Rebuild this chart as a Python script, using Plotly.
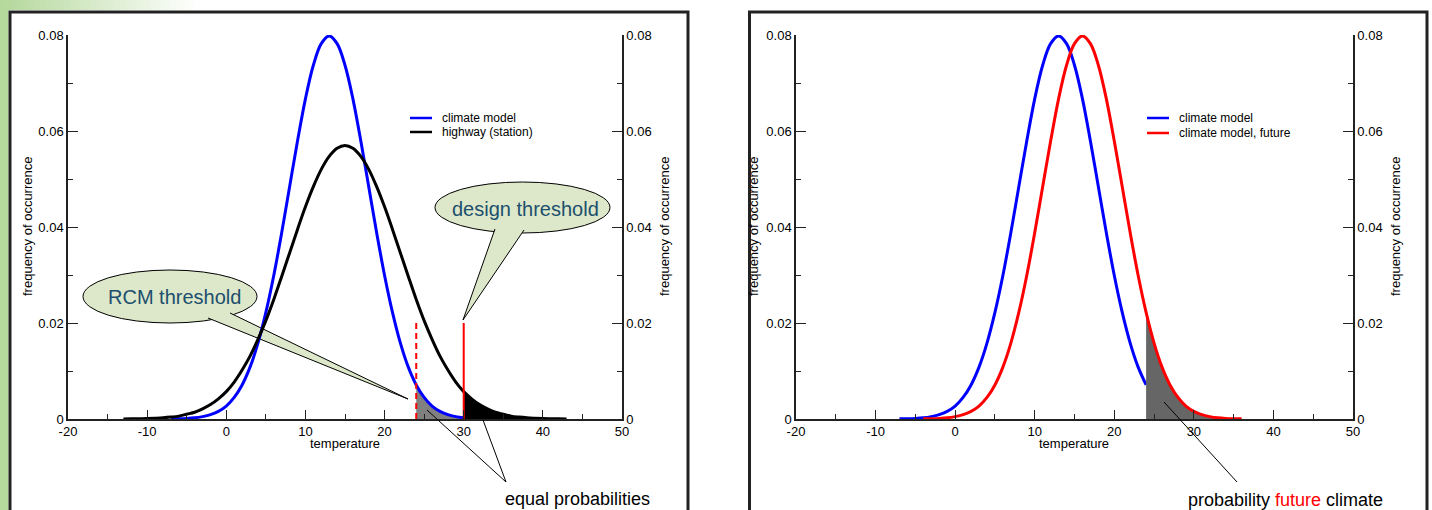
import plotly.graph_objects as go

W, H = 1432, 510

# ---------------- data ----------------
temperature_model = list(range(-7, 34))
freq_model = [0.00003, 0.00006, 0.00012, 0.00025, 0.0005, 0.0009, 0.0016, 0.0027, 0.0045, 0.0071,
              0.0108, 0.0158, 0.0222, 0.0299, 0.0388, 0.0484, 0.0579, 0.0667, 0.0737, 0.0782,
              0.0798,
              0.0782, 0.0737, 0.0667, 0.0579, 0.0484, 0.0388, 0.0299, 0.0222, 0.0158, 0.0108,
              0.0071, 0.0045, 0.0027, 0.0016, 0.0009, 0.0005, 0.00025, 0.00012, 0.00006, 0.00003]

temperature_station = list(range(-13, 44))
freq_station = [0.00002, 0.00003, 0.00006, 0.0001, 0.00017, 0.00026, 0.0004, 0.0006, 0.001, 0.0014,
                0.0021, 0.003, 0.0042, 0.0057, 0.0077, 0.0102, 0.0131, 0.0166, 0.0205, 0.0249,
                0.0297, 0.0346, 0.0395, 0.0442, 0.0484, 0.052, 0.0547, 0.0564,
                0.057,
                0.0564, 0.0547, 0.052, 0.0484, 0.0442, 0.0395, 0.0346, 0.0297, 0.0249, 0.0205,
                0.0166, 0.0131, 0.0102, 0.0077, 0.0057, 0.0042, 0.003, 0.0021, 0.0014, 0.001,
                0.0006, 0.0004, 0.00026, 0.00017, 0.0001, 0.00006, 0.00003, 0.00002]

temperature_future = list(range(-4, 37))
freq_future = [0.00003, 0.00006, 0.00012, 0.00025, 0.0005, 0.0009, 0.0016, 0.0027, 0.0045, 0.0071,
               0.0108, 0.0158, 0.0222, 0.0299, 0.0388, 0.0484, 0.0579, 0.0667, 0.0737, 0.0782,
               0.0798,
               0.0782, 0.0737, 0.0667, 0.0579, 0.0484, 0.0388, 0.0299, 0.0222, 0.0158, 0.0108,
               0.0071, 0.0045, 0.0027, 0.0016, 0.0009, 0.0005, 0.00025, 0.00012, 0.00006, 0.00003]

rcm_threshold = 24
design_threshold = 30
threshold_top = 0.02
model_end_left = 30
model_end_right = 24

x_tick_vals = [-20, -10, 0, 10, 20, 30, 40, 50]
x_tick_text = ["-20", "-10", "0", "10", "20", "30", "40", "50"]

# ---------------- helpers ----------------
FONT = "Liberation Sans, Arial, Helvetica, sans-serif"
BLUE, BLACK, RED = "#0000ff", "#000000", "#ff0000"


def px(x):
    return x / W


def py(y):
    return 1 - y / H


def subset(xs, ys, lo, hi):
    pts = [(x, y) for x, y in zip(xs, ys) if lo <= x <= hi]
    return [p[0] for p in pts], [p[1] for p in pts]


fig = go.Figure()

# ---------------- left panel ----------------
gx, gy = subset(temperature_model, freq_model, rcm_threshold, model_end_left)
fig.add_trace(go.Scatter(x=gx, y=gy, xaxis="x", yaxis="y", mode="lines", line=dict(width=0, shape="spline"),
                         fill="tozeroy", fillcolor="#808080", showlegend=False, hoverinfo="skip"))
bx, by = subset(temperature_station, freq_station, design_threshold, max(temperature_station))
fig.add_trace(go.Scatter(x=bx, y=by, xaxis="x", yaxis="y2", mode="lines", line=dict(width=0, shape="spline"),
                         fill="tozeroy", fillcolor="#000000", showlegend=False, hoverinfo="skip"))
mx, my = subset(temperature_model, freq_model, min(temperature_model), model_end_left)
fig.add_trace(go.Scatter(x=mx, y=my, xaxis="x", yaxis="y", mode="lines", name="climate model",
                         line=dict(color=BLUE, width=3, shape="spline"), showlegend=False))
fig.add_trace(go.Scatter(x=temperature_station, y=freq_station, xaxis="x", yaxis="y2", mode="lines",
                         name="highway (station)", line=dict(color=BLACK, width=3, shape="spline"),
                         showlegend=False))
fig.add_trace(go.Scatter(x=[rcm_threshold, rcm_threshold], y=[0, threshold_top], xaxis="x", yaxis="y2",
                         mode="lines", line=dict(color=RED, width=2, dash="6px,4px"), showlegend=False))
fig.add_trace(go.Scatter(x=[design_threshold, design_threshold], y=[0, threshold_top], xaxis="x", yaxis="y2",
                         mode="lines", line=dict(color=RED, width=2), showlegend=False))

# ---------------- right panel ----------------
fx, fy = subset(temperature_future, freq_future, rcm_threshold, max(temperature_future))
fig.add_trace(go.Scatter(x=fx, y=fy, xaxis="x2", yaxis="y4", mode="lines", line=dict(width=0, shape="spline"),
                         fill="tozeroy", fillcolor="#666666", showlegend=False, hoverinfo="skip"))
rx, ry = subset(temperature_model, freq_model, min(temperature_model), model_end_right)
fig.add_trace(go.Scatter(x=rx, y=ry, xaxis="x2", yaxis="y3", mode="lines", name="climate model",
                         line=dict(color=BLUE, width=3, shape="spline"), showlegend=False))
fig.add_trace(go.Scatter(x=temperature_future, y=freq_future, xaxis="x2", yaxis="y4", mode="lines",
                         name="climate model, future", line=dict(color=RED, width=3, shape="spline"),
                         showlegend=False))

# ---------------- axes ----------------
y_dom = [py(419), py(35)]
axis_common = dict(showline=True, linecolor="#222", linewidth=1.5, showgrid=False, zeroline=False,
                   automargin=False,
                   ticks="inside", tickcolor="#222", tickwidth=1, ticklen=10,
                   tickfont=dict(family=FONT, size=13, color="#000"))


def xax(domain, anchor):
    return dict(axis_common, domain=domain, anchor=anchor, range=[-20, 50], tickmode="array",
                tickvals=x_tick_vals, ticktext=x_tick_text, ticklen=9,
                minor=dict(tickmode="linear", tick0=-20, dtick=5, ticks="inside", ticklen=5,
                           tickcolor="#222", tickwidth=1))


def yax(anchor, side, overlaying=None):
    d = dict(axis_common, domain=y_dom, anchor=anchor, side=side, range=[0, 0.08], dtick=0.02, tick0=0,
             minor=dict(tickmode="linear", tick0=0, dtick=0.01, ticks="inside", ticklen=5,
                        tickcolor="#222", tickwidth=1))
    if overlaying:
        d["overlaying"] = overlaying
    return d


fig.update_layout(
    width=W, height=H,
    margin=dict(l=0, r=0, t=0, b=0, autoexpand=False),
    paper_bgcolor="white", plot_bgcolor="rgba(0,0,0,0)",
    font=dict(family=FONT, size=13, color="#000"),
    xaxis=xax([px(68), px(622)], "y"),
    yaxis=yax("x", "left"),
    yaxis2=yax("x", "right", "y"),
    xaxis2=xax([px(796), px(1353)], "y3"),
    yaxis3=yax("x2", "left"),
    yaxis4=yax("x2", "right", "y3"),
)

shapes = []
annotations = []

# decoration: green strip + gradient bar
shapes.append(dict(type="rect", xref="paper", yref="paper", x0=px(0), x1=px(8.5), y0=py(H + 5), y1=py(0),
                   fillcolor="rgb(181,217,156)", line=dict(width=0), layer="below"))
n = 40
for i in range(n):
    t = i / (n - 1)
    c = tuple(int(a + (255 - a) * t) for a in (181, 217, 156))
    shapes.append(dict(type="rect", xref="paper", yref="paper", x0=px(i * 5), x1=px(i * 5 + 5.5),
                       y0=py(10), y1=py(0), fillcolor="rgb(%d,%d,%d)" % c, line=dict(width=0), layer="below"))

# frames
for x0, x1 in [(10, 688), (749.5, 1427)]:
    shapes.append(dict(type="rect", xref="paper", yref="paper", x0=px(x0), x1=px(x1), y0=py(H + 10), y1=py(12),
                       line=dict(color="#222", width=3), fillcolor="rgba(0,0,0,0)", layer="below"))

# legends
legend_items = [
    (410, 118, BLUE, "climate model"),
    (410, 132, BLACK, "highway (station)"),
    (1147, 118, BLUE, "climate model"),
    (1147, 133, RED, "climate model, future"),
]
for lx, ly, col, txt in legend_items:
    shapes.append(dict(type="line", xref="paper", yref="paper", x0=px(lx), x1=px(lx + 22), y0=py(ly), y1=py(ly),
                       line=dict(color=col, width=2.5)))
    annotations.append(dict(xref="paper", yref="paper", x=px(lx + 30), y=py(ly), text=txt, showarrow=False,
                            xanchor="left", yanchor="middle", font=dict(family=FONT, size=12, color="#000")))

# callouts
CALLOUT_FILL = "#dce8c9"
CALLOUT_TEXT = "#1d4f6e"


def callout(ex0, ey0, ex1, ey1, b1, tip, b2, text, tx, ty):
    shapes.append(dict(type="circle", xref="paper", yref="paper", x0=px(ex0), x1=px(ex1), y0=py(ey1), y1=py(ey0),
                       fillcolor=CALLOUT_FILL, line=dict(color="#000", width=1), layer="below"))
    path = "M %f,%f L %f,%f L %f,%f" % (px(b1[0]), py(b1[1]), px(tip[0]), py(tip[1]), px(b2[0]), py(b2[1]))
    shapes.append(dict(type="path", xref="paper", yref="paper", path=path, fillcolor=CALLOUT_FILL,
                       line=dict(color="#000", width=1), layer="below"))
    annotations.append(dict(xref="paper", yref="paper", x=px(tx), y=py(ty), text=text, showarrow=False,
                            xanchor="center", yanchor="middle", font=dict(family=FONT, size=20, color=CALLOUT_TEXT)))


callout(83, 270, 257, 323, (208, 318), (408, 399), (230, 313), "RCM threshold", 174, 297)
callout(435, 182, 610, 233, (495, 229), (463, 320), (524, 230), "design threshold", 525, 209)

# pointer lines
for (x0, y0, x1, y1) in [(506, 482, 427, 410), (506, 482, 483, 420), (1237, 482, 1164, 402)]:
    shapes.append(dict(type="line", xref="paper", yref="paper", x0=px(x0), y0=py(y0), x1=px(x1), y1=py(y1),
                       line=dict(color="#000", width=1)))

annotations.append(dict(xref="paper", yref="paper", x=px(577), y=py(499), text="equal probabilities",
                        showarrow=False, xanchor="center", yanchor="middle",
                        font=dict(family=FONT, size=18, color="#000")))
annotations.append(dict(xref="paper", yref="paper", x=px(1285), y=py(500),
                        text='probability <span style="color:#ff0000">future</span> climate',
                        showarrow=False, xanchor="center", yanchor="middle",
                        font=dict(family=FONT, size=18, color="#000")))

# axis titles
for tx in [27, 664, 753, 1395]:
    annotations.append(dict(xref="paper", yref="paper", x=px(tx), y=py(227), text="frequency of occurrence",
                            textangle=-90, showarrow=False, xanchor="center", yanchor="middle",
                            font=dict(family=FONT, size=13, color="#000")))
for tx in [345, 1074]:
    annotations.append(dict(xref="paper", yref="paper", x=px(tx), y=py(443), text="temperature",
                            showarrow=False, xanchor="center", yanchor="middle",
                            font=dict(family=FONT, size=13, color="#000")))

fig.update_layout(shapes=shapes, annotations=annotations)

fig.write_html("out.html", post_script="document.body.style.margin='0';document.body.style.overflow='hidden';")
